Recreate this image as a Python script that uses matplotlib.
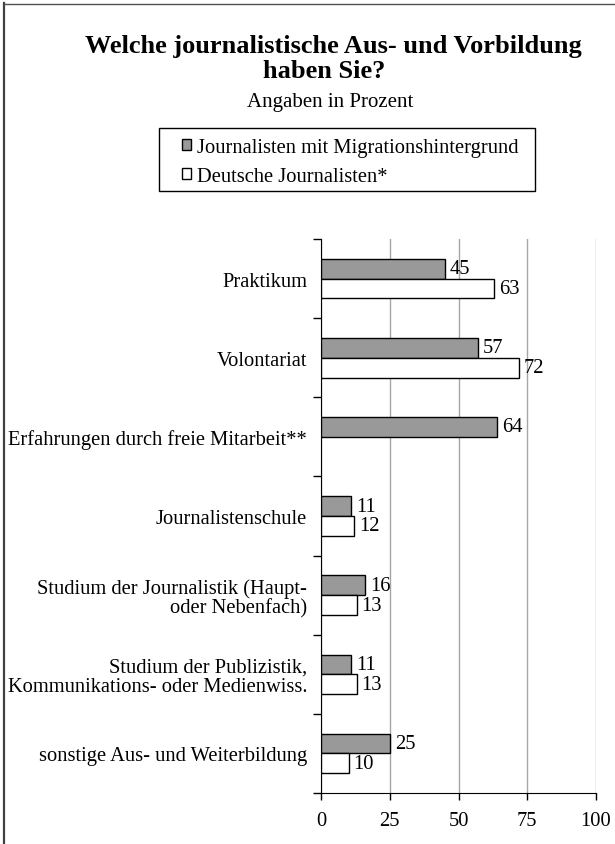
import matplotlib
matplotlib.use("Agg")
import matplotlib.pyplot as plt
from matplotlib.patches import Patch, Rectangle
from matplotlib.lines import Line2D
import numpy as np

plt.rcParams['font.family'] = ['Liberation Serif', 'DejaVu Serif']

categories = [
    "Praktikum",
    "Volontariat",
    "Erfahrungen durch freie Mitarbeit**",
    "Journalistenschule",
    "Studium der Journalistik (Haupt-\noder Nebenfach)",
    "Studium der Publizistik,\nKommunikations- oder Medienwiss.",
    "sonstige Aus- und Weiterbildung",
]
migration = [45, 57, 64, 11, 16, 11, 25]
deutsche = [63, 72, None, 12, 13, 13, 10]
series_names = ["Journalisten mit Migrationshintergrund", "Deutsche Journalisten*"]
x_ticks = [0, 25, 50, 75, 100]
title_lines = ["Welche journalistische Aus- und Vorbildung", "haben Sie?"]
subtitle = "Angaben in Prozent"

W, H = 615, 845
fig = plt.figure(figsize=(W / 100, H / 100), dpi=100)
fig.patch.set_facecolor('white')

ax = fig.add_axes([321 / W, (H - 794) / H, (596 - 321) / W, (794 - 240) / H])

FS = 14.8
gray = '#999999'
bh = 0.25
y = np.arange(len(categories))
for i, v in enumerate(migration):
    if v is not None:
        ax.barh(i - bh / 2, v, height=bh, color=gray, edgecolor='black', linewidth=1.0, zorder=3)
        ax.text(v + 1.8, i - bh / 2, str(v), va='center', ha='left', fontsize=FS, zorder=4)
for i, v in enumerate(deutsche):
    if v is not None:
        ax.barh(i + bh / 2, v, height=bh, color='white', edgecolor='black', linewidth=1.0, zorder=3)
        ax.text(v + 1.8, i + bh / 2, str(v), va='center', ha='left', fontsize=FS, zorder=4)

ax.set_xlim(0, 100)
ax.set_ylim(len(categories) - 0.5, -0.5)
ax.set_xticks(x_ticks)
ax.set_xticklabels([str(t) for t in x_ticks], fontsize=FS)
ax.tick_params(axis='x', direction='out', length=5, width=1, pad=8)

ax.set_yticks(y)
ax.set_yticklabels(categories, fontsize=FS, ha='right', multialignment='right', linespacing=1.0)
ax.set_yticks(np.arange(-0.5, len(categories) + 0.5, 1), minor=True)
ax.tick_params(axis='y', which='major', length=0, pad=10)
ax.tick_params(axis='y', which='minor', direction='out', length=6, width=1)

ax.xaxis.grid(True, color='#a6a6a6', linewidth=1.0, zorder=0)
ax.set_axisbelow(True)
for s in ['top', 'right']:
    ax.spines[s].set_visible(False)
ax.spines['left'].set_color('black')
ax.spines['bottom'].set_color('black')

# Title and subtitle
fig.text(333 / W, 1 - 53 / H, title_lines[0], ha='center', va='baseline',
         fontsize=19, fontweight='bold')
fig.text(324 / W, 1 - 78 / H, title_lines[1], ha='center', va='baseline',
         fontsize=19, fontweight='bold')
fig.text(330 / W, 1 - 107 / H, subtitle, ha='center', va='baseline', fontsize=15)

# Legend with rectangular frame
handles = [Patch(facecolor=gray, edgecolor='black', linewidth=1.0),
           Patch(facecolor='white', edgecolor='black', linewidth=1.0)]
leg = fig.legend(handles, series_names, loc='upper left',
                 bbox_to_anchor=(182 / W, 1 - 139 / H), fontsize=FS,
                 frameon=False, handlelength=0.45, handleheight=0.45,
                 handletextpad=0.3, borderpad=0, labelspacing=0.48, borderaxespad=0)
fig.add_artist(Rectangle((159 / W, 1 - 192 / H), (535 - 159) / W, (192 - 129) / H,
                         transform=fig.transFigure, facecolor='none',
                         edgecolor='black', linewidth=1.0))

# outer frame (left and top visible)
fig.add_artist(Line2D([4 / W, 4 / W], [0, 1 - 4 / H], transform=fig.transFigure,
                      color='#404040', linewidth=1.6))
fig.add_artist(Line2D([4 / W, 1], [1 - 4.5 / H, 1 - 4.5 / H], transform=fig.transFigure,
                      color='#505050', linewidth=1.0))

fig.savefig("out.png", dpi=100, facecolor='white')
